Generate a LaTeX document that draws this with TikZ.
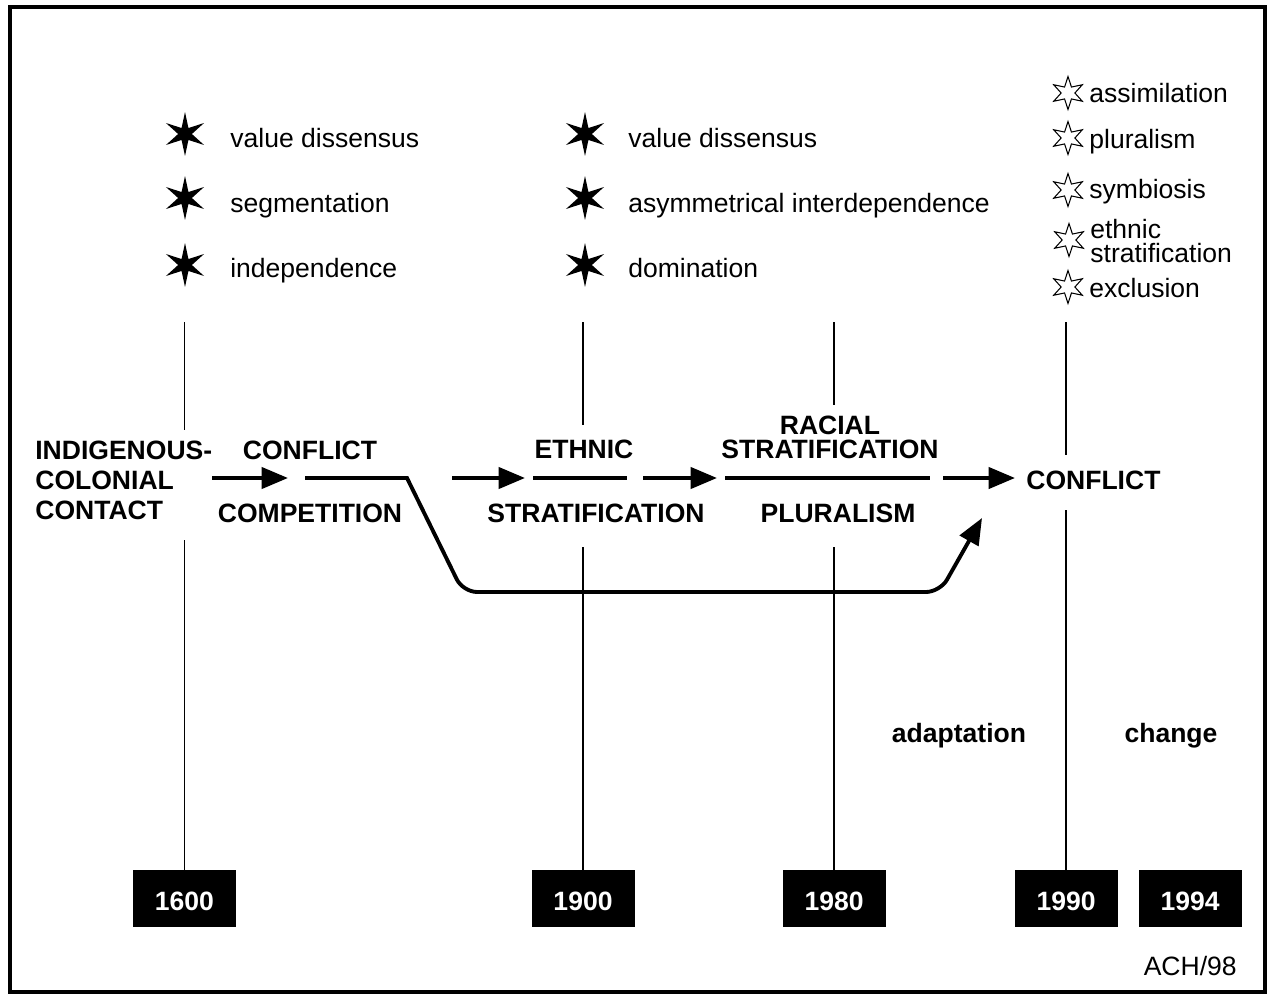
\documentclass[tikz,border=0pt]{standalone}
\usepackage{fontspec}
\setmainfont{Liberation Sans}
\usetikzlibrary{arrows.meta,shapes.geometric}

\tikzset{
  lbl/.style={font=\bfseries, inner sep=0pt},
  item/.style={anchor=base west, inner sep=0pt},
  solidstar/.style={star, star points=6, star point ratio=3.2, fill=black,
    inner sep=0pt, minimum size=0.88cm},
  openstar/.style={star, star points=6, star point ratio=2.4, draw=black,
    line width=0.6pt, inner sep=0pt, minimum size=0.66cm},
  yearbox/.style={fill=black, text=white, font=\bfseries, inner sep=0pt,
    minimum width=2.06cm, minimum height=1.14cm, text height=0.5cm},
  tick/.style={line width=1pt},
  flow/.style={line width=2.2pt},
  flowarrow/.style={flow, -{Triangle[length=15pt,width=12pt]}},
}

\begin{document}
\fontsize{15.1pt}{17.1pt}\selectfont
\begin{tikzpicture}[x=0.02cm,y=-0.02cm]
  \useasboundingbox (0,0) rectangle (1270,997);
  \draw[line width=0.09cm] (10,7) rectangle (1265,992);

  % years along the bottom
  \foreach \yr/\x in {1600/184.5,1900/583,1980/834,1990/1066,1994/1190}
    \node[yearbox] (y\yr) at (\x,898.5) {\yr};

  % time lines
  \foreach \yr/\a/\b in {1600/430/540,1900/425/547,1980/405/547,1990/455/510} {
    \draw[tick] (y\yr.north |- 0,322) -- (y\yr.north |- 0,\a);
    \draw[tick] (y\yr.north |- 0,\b) -- (y\yr.north);
  }

  % conditions
  \foreach \s/\b/\t [count=\i] in {134/147/value dissensus,
      198/212/segmentation, 265/277/independence} {
    \node[solidstar] (lst\i) at (185,\s) {};
    \node[item] (ltx\i) at (230,\b) {\t};
  }
  \foreach \s/\b/\t [count=\i] in {134/147/value dissensus,
      198/212/asymmetrical interdependence, 265/277/domination} {
    \node[solidstar] (mst\i) at (585,\s) {};
    \node[item] (mtx\i) at (628,\b) {\t};
  }
  \foreach \s/\b/\t [count=\i] in {93/103/assimilation, 138/148/pluralism,
      190/198/symbiosis, 287/297/exclusion} {
    \node[openstar] (rst\i) at (1068,\s) {};
    \node[item] (rtx\i) at (1089,\b) {\t};
  }
  \node[openstar] (rst5) at (1069,240) {};
  \node[inner sep=0pt, anchor=north west, align=left,
    font=\fontsize{15.1pt}{13.7pt}\selectfont] (rtx5) at (1090,219)
    {ethnic\\stratification};

  % stages
  \node[lbl, align=left, anchor=west] (contact) at (35,480)
    {INDIGENOUS-\\COLONIAL\\CONTACT};
  \node[lbl] (conflict) at (310,450) {CONFLICT};
  \node[lbl] (compet) at (310,513) {COMPETITION};
  \node[lbl] (ethnic) at (584,449) {ETHNIC};
  \node[lbl] (ethstrat) at (596,513) {STRATIFICATION};
  \node[lbl, align=center, font=\bfseries\fontsize{15.1pt}{13.7pt}\selectfont]
    (racial) at (830,437) {RACIAL\\STRATIFICATION};
  \node[lbl] (plural) at (838,513) {PLURALISM};
  \node[lbl, anchor=west] (conflict2) at (1026,480) {CONFLICT};
  \node[lbl, anchor=base] (adapt) at (959,742) {adaptation};
  \node[lbl, anchor=base] (change) at (1171,742) {change};
  \node[inner sep=0pt, anchor=base east] (mark) at (1237,975) {ACH/98};

  % main line
  \foreach \n/\x in {a/212,b/288,c/305,d/407,e/452,f/525,g/533,h/627,
      i/643,j/717,k/725,l/930,m/943,n/1015}
    \coordinate (\n) at (\x,478);
  \coordinate (o) at (435,535);
  \coordinate (p) at (463,592);
  \coordinate (q) at (940,592);
  \coordinate (r) at (982,518);

  \draw[flowarrow] (a) -- (b);
  \draw[flowarrow] (e) -- (f);
  \draw[flowarrow] (i) -- (j);
  \draw[flowarrow] (m) -- (n);
  \draw[flow] (g) -- (h);
  \draw[flow] (k) -- (l);
  \draw[flowarrow] (c) -- (d) -- (o) [rounded corners=8pt] -- (p) -- (q) -- (r);
\end{tikzpicture}
\end{document}
